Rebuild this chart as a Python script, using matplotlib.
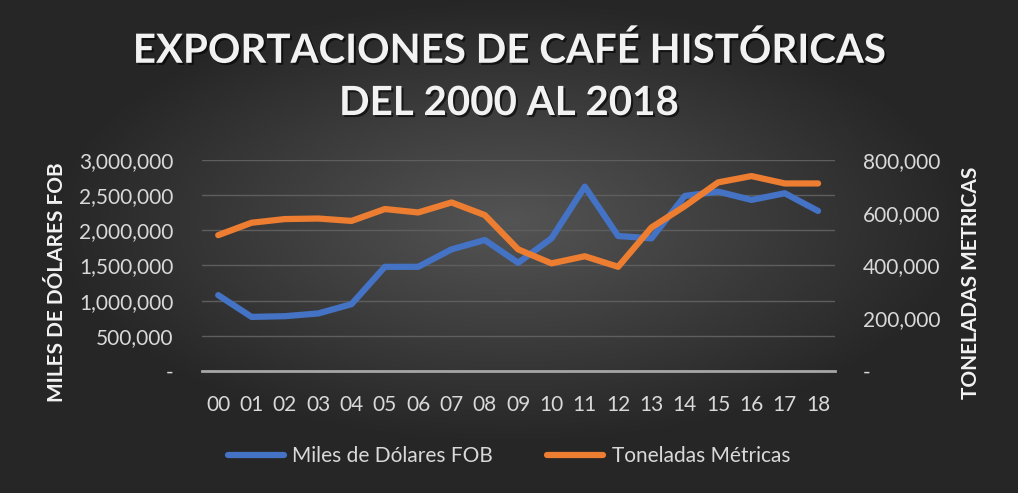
import matplotlib.pyplot as plt
import matplotlib.patheffects as pe
from matplotlib.ticker import FuncFormatter
import numpy as np

plt.rcParams["font.family"] = ["Lato", "DejaVu Sans"]

years = ["00", "01", "02", "03", "04", "05", "06", "07", "08", "09",
         "10", "11", "12", "13", "14", "15", "16", "17", "18"]
miles_usd_fob = [1078000, 769000, 779000, 818000, 950000, 1481000, 1481000,
                 1729000, 1862000, 1538000, 1886000, 2621000, 1919000,
                 1886000, 2489000, 2550000, 2432000, 2527000, 2275000]
toneladas = [515000, 562000, 576000, 578000, 569000, 614000, 601000, 639000,
             591000, 461000, 408000, 435000, 395000, 544000, 625000, 715000,
             739000, 711000, 711000]

BLUE = "#4472C4"
ORANGE = "#ED7D31"
TXT = "#d9d9d9"


def fmt(v, _):
    return "-" if v == 0 else f"{v:,.0f}"


fig = plt.figure(figsize=(10.18, 4.93), dpi=100)

# dark radial background
bg = fig.add_axes([0, 0, 1, 1], zorder=-10)
yy, xx = np.mgrid[0:1:300j, 0:1:600j]
r = np.sqrt(((xx - 0.5) / 0.75) ** 2 + ((yy - 0.45) / 0.75) ** 2)
shade = np.clip(0.33 - 0.30 * r, 0.15, 0.33)
bg.imshow(np.dstack([shade] * 3), aspect="auto", extent=[0, 1, 0, 1])
bg.set_axis_off()

ax = fig.add_axes([0.198, 0.2475, 0.622, 0.428])
ax.patch.set_alpha(0)
x = np.arange(len(years))
l1, = ax.plot(x, miles_usd_fob, color=BLUE, lw=4.5, solid_capstyle="round",
              solid_joinstyle="round", label="Miles de Dólares FOB", zorder=3)
ax.set_ylim(0, 3000000)
ax.set_yticks(np.arange(0, 3000001, 500000))
ax.yaxis.set_major_formatter(FuncFormatter(fmt))
ax.set_xlim(-0.5, len(years) - 0.5)
ax.set_xticks(x)
ax.set_xticklabels(years)
ax.grid(axis="y", color="#5e5e5e", lw=1)
ax.set_axisbelow(True)
for s in ["top", "right", "left"]:
    ax.spines[s].set_visible(False)
ax.spines["bottom"].set_color("#a6a6a6")
ax.spines["bottom"].set_linewidth(2)
ax.tick_params(axis="both", length=0, colors=TXT, labelsize=15, pad=17)
ax.tick_params(axis="y", pad=20)
ax.set_ylabel("MILES DE DÓLARES FOB", color="#f2f2f2", fontsize=15,
              fontweight="bold")
ax.yaxis.set_label_coords(-0.212, 0.42)

ax2 = ax.twinx()
l2, = ax2.plot(x, toneladas, color=ORANGE, lw=4.5, solid_capstyle="round",
               solid_joinstyle="round", label="Toneladas Métricas", zorder=3)
ax2.set_ylim(0, 800000)
ax2.set_yticks(np.arange(0, 800001, 200000))
ax2.yaxis.set_major_formatter(FuncFormatter(fmt))
for s in ax2.spines.values():
    s.set_visible(False)
ax2.tick_params(axis="y", length=0, colors=TXT, labelsize=15, pad=20)
ax2.set_ylabel("TONELADAS METRICAS", color="#f2f2f2", fontsize=15,
               fontweight="bold", rotation=90)
ax2.yaxis.set_label_coords(1.199, 0.42)

shadow = [pe.withSimplePatchShadow(offset=(1.5, -1.5), shadow_rgbFace="black", alpha=0.6)]
fig.text(0.5, 0.897, "EXPORTACIONES DE CAFÉ HISTÓRICAS", ha="center",
         va="center", color="#f2f2f2", fontsize=29, fontweight="bold",
         path_effects=shadow)
fig.text(0.5, 0.79, "DEL 2000 AL 2018", ha="center", va="center",
         color="#f2f2f2", fontsize=29, fontweight="bold", path_effects=shadow)

fig.legend(handles=[l1, l2], loc="center", bbox_to_anchor=(0.5, 0.075),
           ncol=2, frameon=False, fontsize=15, labelcolor=TXT,
           handlelength=2.7, columnspacing=2.6, handletextpad=0.4)

fig.savefig("out.png", dpi=100)
